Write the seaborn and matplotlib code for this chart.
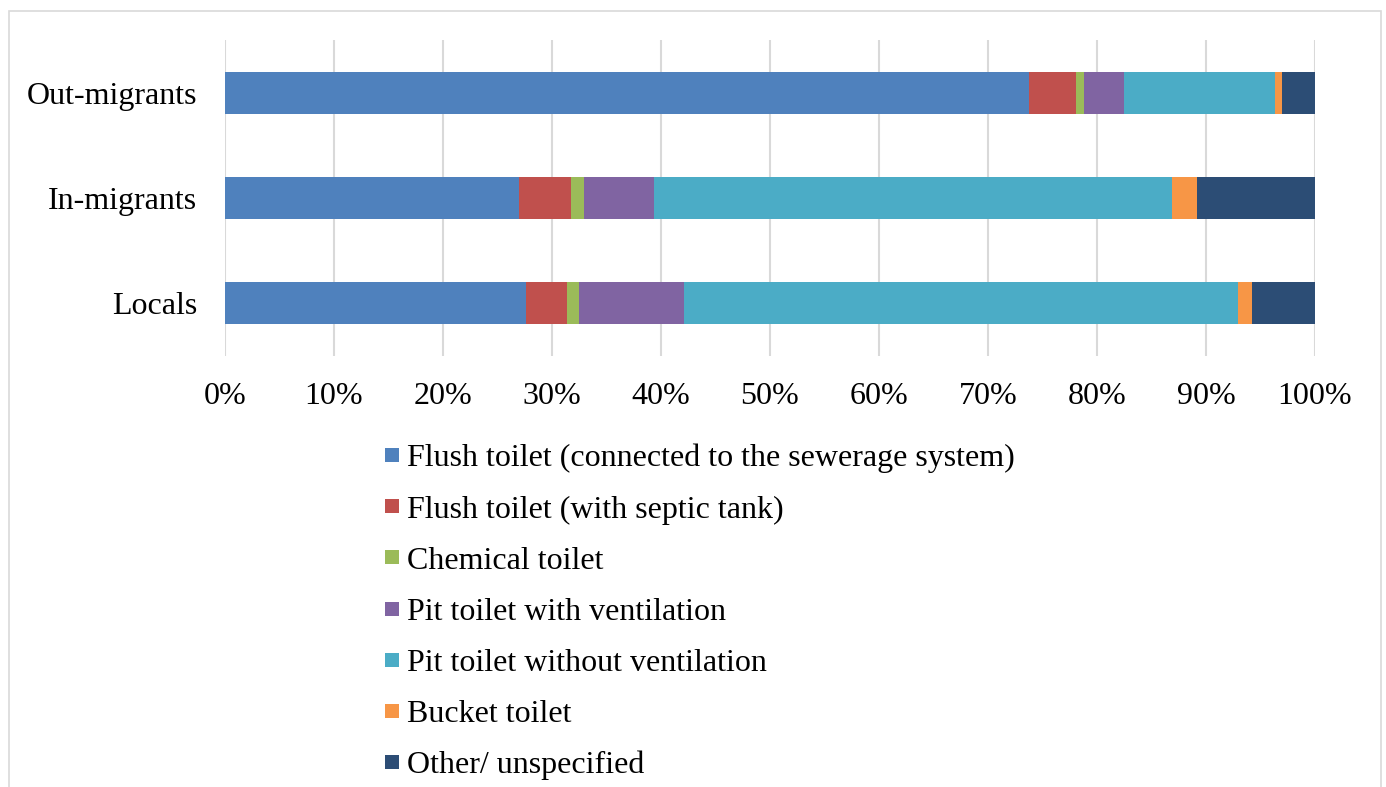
import numpy as np
import pandas as pd
import matplotlib
matplotlib.use("Agg")
import matplotlib.pyplot as plt
from matplotlib.lines import Line2D
from matplotlib.patches import Rectangle
import seaborn as sns

# Toilet facilities by migrant status (% of households)
groups = ["Out-migrants", "In-migrants", "Locals"]
categories = [
    "Flush toilet (connected to the sewerage system)",
    "Flush toilet (with septic tank)",
    "Chemical toilet",
    "Pit toilet with ventilation",
    "Pit toilet without ventilation",
    "Bucket toilet",
    "Other/ unspecified",
]
flush_sewer = [73.8, 27.0, 27.6]
flush_septic = [4.3, 4.7, 3.8]
chemical = [0.7, 1.2, 1.1]
pit_vent = [3.7, 6.5, 9.6]
pit_no_vent = [13.8, 47.5, 50.8]
bucket = [0.7, 2.3, 1.3]
other = [3.0, 10.8, 5.8]
tick_labels = ["0%", "10%", "20%", "30%", "40%", "50%", "60%", "70%", "80%", "90%", "100%"]

colors = ["#4F81BD", "#C0504D", "#9BBB59", "#8064A2", "#4BACC6", "#F79646", "#2C4D75"]

sns.set_style("white")
plt.rcParams["font.family"] = ["Liberation Serif", "DejaVu Serif"]
plt.rcParams["text.color"] = "black"

FS = 23

series = [flush_sewer, flush_septic, chemical, pit_vent, pit_no_vent, bucket, other]
table = pd.DataFrame(dict(zip(categories, series)), index=groups)
cumulative = table.cumsum(axis=1)

fig = plt.figure(figsize=(13.86, 7.87), dpi=100)
W, H = 1386, 787
ax = fig.add_axes([225 / W, 1 - 356 / H, (1315 - 225) / W, (356 - 40) / H])

# Stacked bars: draw cumulative totals from the outermost segment inward
for cat, col in reversed(list(zip(categories, colors))):
    d = pd.DataFrame({"group": groups, "value": cumulative[cat].values})
    sns.barplot(data=d, x="value", y="group", orient="h", color=col,
                width=0.4, saturation=1, linewidth=0, ax=ax, zorder=3)

ax.set_xlim(0, 100)
ax.set_ylim(2.5, -0.5)
ax.set_xticks(np.arange(0, 101, 10))
ax.set_xticklabels(tick_labels)
ax.set_xlabel("")
ax.set_ylabel("")
ax.grid(axis="x", color="#D9D9D9", linewidth=1.5, zorder=0)
ax.grid(axis="y", visible=False)
ax.set_axisbelow(True)
for s in ax.spines.values():
    s.set_visible(False)
ax.tick_params(axis="both", length=0, labelsize=FS, labelcolor="black")
ax.tick_params(axis="x", pad=19)
ax.tick_params(axis="y", pad=20)

handles = [Line2D([0], [0], marker="s", linestyle="none", markersize=10.5,
                  markerfacecolor=c, markeredgewidth=0) for c in colors]
leg = fig.legend(handles, categories, loc="upper left",
                 bbox_to_anchor=(382 / W, 1 - 444 / H), frameon=False,
                 fontsize=FS, handlelength=0.6, handletextpad=0.18,
                 labelspacing=0.68, borderpad=0, borderaxespad=0)
for t in leg.get_texts():
    t.set_color("black")

# Chart area border
fig.patches.append(Rectangle((9 / W, -0.05), (1381 - 9) / W, 1 - 11 / H + 0.05,
                             transform=fig.transFigure, fill=False,
                             edgecolor="#D9D9D9", linewidth=1.2))

fig.savefig("out.png", dpi=100, facecolor="white")
